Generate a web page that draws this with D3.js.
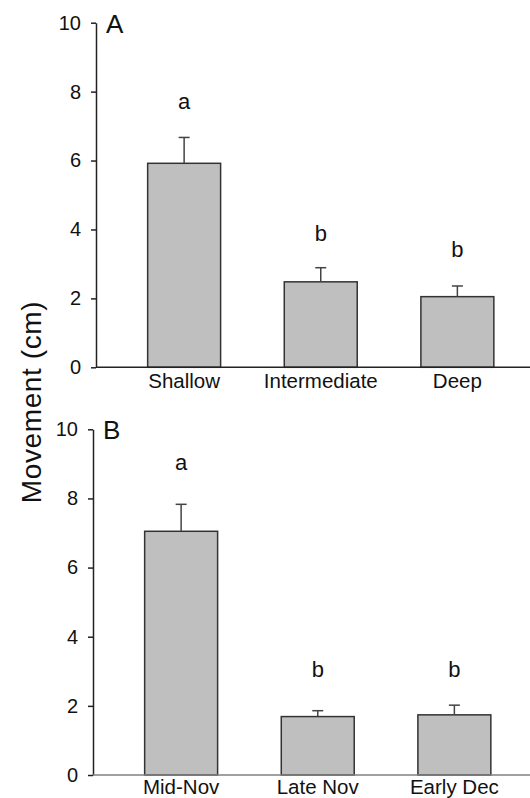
<!DOCTYPE html>
<html>
<head>
<meta charset="utf-8">
<script src="https://cdn.jsdelivr.net/npm/d3@7"></script>
<style>
  body { margin: 0; background: #fff; }
  svg text { font-family: "Liberation Sans", Arial, Helvetica, sans-serif; fill: #111; }
</style>
</head>
<body>
<div id="chart"></div>
<script>
// panel A: depth
var depthCats = ["Shallow", "Intermediate", "Deep"];
var depthMeans = [5.92, 2.48, 2.05];
var depthErr = [0.75, 0.41, 0.31];
var depthLetters = ["a", "b", "b"];
var depthLetterY = [7.49, 3.67, 3.21];

// panel B: timing
var timeCats = ["Mid-Nov", "Late Nov", "Early Dec"];
var timeMeans = [7.05, 1.69, 1.74];
var timeErr = [0.78, 0.17, 0.28];
var timeLetters = ["a", "b", "b"];
var timeLetterY = [8.82, 2.84, 2.84];

var yTicks = [0, 2, 4, 6, 8, 10];

function init() {
    var w = 530, h = 798;

    var svg = d3.select("#chart")
        .append("svg")
        .attr("width", w)
        .attr("height", h);

    // shared y title
    svg.append("text")
        .attr("transform", "translate(41,402) rotate(-90)")
        .attr("text-anchor", "middle")
        .style("font-size", "28px")
        .style("letter-spacing", "0.6px")
        .text("Movement (cm)");

    drawPanel({
        cats: depthCats, means: depthMeans, err: depthErr,
        letters: depthLetters, letterY: depthLetterY,
        label: "A", left: 96, top: 22.7, bottom: 367.3, baseColor: "#222", pad: 6
    });
    drawPanel({
        cats: timeCats, means: timeMeans, err: timeErr,
        letters: timeLetters, letterY: timeLetterY,
        label: "B", left: 93, top: 429.3, bottom: 775, baseColor: "#808080", pad: 4
    });

    function drawPanel(p) {
        var data = p.cats.map(function(c, i) {
            return { cat: c, mean: p.means[i], err: p.err[i], letter: p.letters[i], ly: p.letterY[i] };
        });

        var xScale = d3.scaleBand()
            .domain(p.cats)
            .range([p.left + 17.5, p.left + 432])
            .paddingInner(0.466)
            .paddingOuter(0.25);

        var yScale = d3.scaleLinear()
            .domain([0, 10])
            .range([p.bottom, p.top]);

        var g = svg.append("g");

        // bars
        g.selectAll("rect.bar")
            .data(data)
            .enter()
            .append("rect")
            .attr("class", "bar")
            .attr("x", function(d) { return xScale(d.cat); })
            .attr("y", function(d) { return yScale(d.mean); })
            .attr("width", xScale.bandwidth())
            .attr("height", function(d) { return yScale(0) - yScale(d.mean); })
            .attr("fill", "#bfbfbf")
            .attr("stroke", "#333")
            .attr("stroke-width", 1.5);

        // error bars (upper only)
        var cx = function(d) { return xScale(d.cat) + xScale.bandwidth() / 2; };
        g.selectAll("line.whisker")
            .data(data)
            .enter()
            .append("line")
            .attr("x1", cx).attr("x2", cx)
            .attr("y1", function(d) { return yScale(d.mean); })
            .attr("y2", function(d) { return yScale(d.mean + d.err); })
            .attr("stroke", "#444")
            .attr("stroke-width", 1.5);
        g.selectAll("line.cap")
            .data(data)
            .enter()
            .append("line")
            .attr("x1", function(d) { return cx(d) - 5.5; })
            .attr("x2", function(d) { return cx(d) + 5.5; })
            .attr("y1", function(d) { return yScale(d.mean + d.err); })
            .attr("y2", function(d) { return yScale(d.mean + d.err); })
            .attr("stroke", "#444")
            .attr("stroke-width", 1.5);

        // significance letters
        g.selectAll("text.sig")
            .data(data)
            .enter()
            .append("text")
            .attr("x", cx)
            .attr("y", function(d) { return yScale(d.ly); })
            .attr("text-anchor", "middle")
            .style("font-size", "22px")
            .text(function(d) { return d.letter; });

        // y axis
        var yAxis = d3.axisLeft(yScale)
            .tickValues(yTicks)
            .tickSize(5)
            .tickSizeOuter(0)
            .tickPadding(10);
        var ya = g.append("g")
            .attr("transform", "translate(" + p.left + ",0)")
            .call(yAxis);
        ya.selectAll("text").style("font-size", "20px").attr("fill", "#111");
        ya.selectAll("line, path").attr("stroke", "#222").attr("stroke-width", 1.5);

        // x axis
        var xAxis = d3.axisBottom(xScale)
            .tickSize(0)
            .tickPadding(p.pad);
        var xa = g.append("g")
            .attr("transform", "translate(0," + p.bottom + ")")
            .call(xAxis);
        xa.select("path.domain").remove();
        xa.selectAll("text").style("font-size", "20.5px").attr("fill", "#111");

        g.append("line")
            .attr("x1", p.left).attr("x2", w)
            .attr("y1", p.bottom).attr("y2", p.bottom)
            .attr("stroke", p.baseColor)
            .attr("stroke-width", 1.5);

        // panel letter
        g.append("text")
            .attr("x", p.left + 10)
            .attr("y", p.top + 10)
            .style("font-size", "26px")
            .text(p.label);
    }
}
window.onload = init;
</script>
</body>
</html>
